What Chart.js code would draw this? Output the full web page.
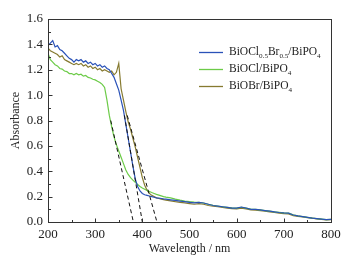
<!DOCTYPE html>
<html>
<head>
<meta charset="utf-8">
<script src="https://cdn.jsdelivr.net/npm/chart.js@4/dist/chart.umd.min.js"></script>
<style>
  html, body { margin: 0; padding: 0; background: #fff; }
  #wrap { width: 364px; height: 263px; }
</style>
</head>
<body>
<div id="wrap"><canvas id="chart" width="364" height="263"></canvas></div>
<script>
// wavelength (nm): 5 nm steps up to 450, then 10 nm steps
const wavelength = [
  200, 205, 210, 215, 220, 225, 230, 235, 240, 245, 250, 255, 260, 265, 270, 275, 280, 285, 290, 295,
  300, 305, 310, 315, 320, 325, 330, 335, 340, 345, 350, 355, 360, 365, 370, 375, 380, 385, 390, 395,
  400, 405, 410, 415, 420, 425, 430, 435, 440, 445, 450,
  460, 470, 480, 490, 500, 510, 520, 530, 540, 550, 560, 570, 580, 590, 600, 610, 620, 630, 640, 650,
  660, 670, 680, 690, 700, 710, 720, 730, 740, 750, 760, 770, 780, 790, 800
];
const absClBr = [
  1.39, 1.41, 1.43, 1.38, 1.39, 1.36, 1.35, 1.33, 1.31, 1.29, 1.28, 1.26, 1.28, 1.27, 1.28, 1.26, 1.27, 1.25, 1.26, 1.24,
  1.25, 1.23, 1.24, 1.22, 1.23, 1.21, 1.20, 1.17, 1.14, 1.09, 1.04, 0.96, 0.88, 0.77, 0.66, 0.55, 0.44, 0.34, 0.28, 0.245,
  0.225, 0.215, 0.21, 0.205, 0.20, 0.195, 0.19, 0.188, 0.185, 0.182, 0.18,
  0.175, 0.17, 0.165, 0.16, 0.155, 0.15, 0.155, 0.15, 0.14, 0.13, 0.125, 0.12, 0.115, 0.11, 0.11, 0.118, 0.11, 0.10, 0.10, 0.095,
  0.09, 0.085, 0.08, 0.075, 0.072, 0.07, 0.055, 0.048, 0.042, 0.036, 0.03, 0.026, 0.022, 0.018, 0.02
];
const absCl = [
  1.33, 1.28, 1.26, 1.24, 1.23, 1.21, 1.205, 1.19, 1.185, 1.17, 1.17, 1.16, 1.17, 1.16, 1.165, 1.15, 1.155, 1.14, 1.135, 1.125,
  1.12, 1.11, 1.10, 1.085, 1.06, 0.96, 0.84, 0.75, 0.67, 0.61, 0.56, 0.51, 0.46, 0.41, 0.375, 0.35, 0.33, 0.312, 0.296, 0.28,
  0.268, 0.258, 0.248, 0.24, 0.232, 0.225, 0.218, 0.212, 0.206, 0.20, 0.196,
  0.19, 0.18, 0.172, 0.165, 0.16, 0.156, 0.155, 0.15, 0.14, 0.132, 0.126, 0.12, 0.116, 0.112, 0.11, 0.116, 0.11, 0.102, 0.10, 0.095,
  0.09, 0.086, 0.08, 0.076, 0.072, 0.07, 0.056, 0.048, 0.042, 0.036, 0.03, 0.026, 0.022, 0.018, 0.02
];
const absBr = [
  1.37, 1.35, 1.34, 1.33, 1.32, 1.30, 1.31, 1.28, 1.27, 1.26, 1.25, 1.24, 1.25, 1.24, 1.25, 1.23, 1.24, 1.22, 1.23, 1.21,
  1.22, 1.20, 1.21, 1.19, 1.20, 1.19, 1.18, 1.19, 1.16, 1.18, 1.25, 1.05, 0.96, 0.87, 0.79, 0.73, 0.66, 0.59, 0.51, 0.43,
  0.35, 0.29, 0.25, 0.225, 0.21, 0.20, 0.19, 0.185, 0.18, 0.176, 0.172,
  0.166, 0.16, 0.155, 0.15, 0.145, 0.14, 0.145, 0.14, 0.13, 0.124, 0.12, 0.115, 0.11, 0.106, 0.104, 0.11, 0.104, 0.096, 0.094, 0.09,
  0.085, 0.08, 0.075, 0.07, 0.066, 0.064, 0.05, 0.045, 0.04, 0.035, 0.03, 0.025, 0.02, 0.016, 0.018
];
const seriesNames = ["BiOCl_{0.5}Br_{0.5}/BiPO_{4}", "BiOCl/BiPO_{4}", "BiOBr/BiPO_{4}"];
const seriesColors = ["#2a52b8", "#6ccb48", "#867a30"];
// absorption-edge tangents (start and x-axis intercept)
const edgeX = [[333, 381], [362, 400], [368, 431]];
const edgeY = [[0.80, 0], [0.84, 0], [0.84, 0]];
const xTicks = [200, 300, 400, 500, 600, 700, 800];
const yTicks = [0, 0.2, 0.4, 0.6, 0.8, 1.0, 1.2, 1.4, 1.6];

const serif = "'Liberation Serif', 'Times New Roman', serif";
const series = [absClBr, absCl, absBr];

const toPoints = (xs, ys) => xs.map((v, i) => ({ x: v, y: ys[i] }));

const datasets = [];
edgeX.forEach((xs, i) => {
  datasets.push({
    label: "edge" + i,
    data: toPoints(xs, edgeY[i]),
    borderColor: "#111",
    borderWidth: 1,
    borderDash: [4, 3],
    pointRadius: 0,
  });
});
series.forEach((ys, i) => {
  datasets.push({
    label: seriesNames[i],
    data: toPoints(wavelength, ys),
    borderColor: seriesColors[i],
    borderWidth: 1.2,
    pointRadius: 0,
    tension: 0,
  });
});

// draws text with _{...} parts as subscripts
const drawRich = function (ctx, str, x, y, size) {
  const parts = str.split(/(_\{[^}]*\})/).filter((p) => p);
  parts.forEach((p) => {
    const sub = p.startsWith("_{");
    const t = sub ? p.slice(2, -1) : p;
    ctx.font = (sub ? size * 0.62 : size) + "px " + serif;
    ctx.fillText(t, x, sub ? y + size * 0.32 : y);
    x += ctx.measureText(t).width;
  });
};

const framePlugin = {
  id: "frame",
  afterDatasetsDraw(chart) {
    const { ctx, chartArea: a, scales } = chart;
    const l = Math.round(a.left) + 0.5, r = Math.round(a.right) + 0.5;
    const t = Math.round(a.top) + 0.5, b = Math.round(a.bottom) + 0.5;
    ctx.save();
    ctx.strokeStyle = "#333";
    ctx.lineWidth = 1;
    ctx.strokeRect(l, t, r - l, b - t);
    ctx.beginPath();
    for (let v = 250; v < 800; v += 50) {
      const px = Math.round(scales.x.getPixelForValue(v)) + 0.5;
      const len = v % 100 === 0 ? 4 : 2.5;
      ctx.moveTo(px, b);
      ctx.lineTo(px, b - len);
    }
    for (let k = 1; k < 16; k++) {
      const py = Math.round(scales.y.getPixelForValue(k / 10)) + 0.5;
      const len = k % 2 === 0 ? 4 : 2.5;
      ctx.moveTo(l, py);
      ctx.lineTo(l + len, py);
    }
    ctx.stroke();
    ctx.restore();
  },
};

const legendPlugin = {
  id: "richLegend",
  afterDraw(chart) {
    const ctx = chart.ctx;
    ctx.save();
    seriesNames.forEach((name, i) => {
      const y = 52 + i * 17;
      ctx.strokeStyle = seriesColors[i];
      ctx.lineWidth = 1.3;
      ctx.beginPath();
      ctx.moveTo(199, y + 0.5);
      ctx.lineTo(223, y + 0.5);
      ctx.stroke();
      ctx.fillStyle = "#222";
      ctx.textBaseline = "middle";
      ctx.textAlign = "left";
      drawRich(ctx, name, 229, y, 11.5);
    });
    ctx.restore();
  },
};

new Chart(document.getElementById("chart"), {
  type: "line",
  data: { datasets: datasets },
  options: {
    responsive: false,
    animation: false,
    layout: { padding: { left: 0, right: 33, top: 19, bottom: 0 } },
    plugins: { legend: { display: false }, tooltip: { enabled: false } },
    scales: {
      x: {
        type: "linear",
        min: 200,
        max: 800,
        afterBuildTicks: (s) => { s.ticks = xTicks.map((v) => ({ value: v })); },
        afterFit: (s) => { s.height = 41; },
        grid: { display: false, drawTicks: false },
        border: { display: false },
        ticks: { color: "#222", padding: 5, autoSkip: false, font: { family: serif, size: 13 }, maxRotation: 0 },
        title: {
          display: true,
          text: "Wavelength / nm",
          color: "#222",
          font: { family: serif, size: 12 },
          padding: { top: 0, bottom: 7 },
        },
      },
      y: {
        min: 0,
        max: 1.6,
        afterBuildTicks: (s) => { s.ticks = yTicks.map((v) => ({ value: v })); },
        afterTickToLabelConversion: (s) => {
          s.ticks.forEach((t) => { t.label = t.value.toFixed(1); });
        },
        afterFit: (s) => { s.width = 48; },
        grid: { display: false, drawTicks: false },
        border: { display: false },
        ticks: { color: "#222", padding: 5, autoSkip: false, font: { family: serif, size: 13 } },
        title: {
          display: true,
          text: "Absorbance",
          color: "#222",
          font: { family: serif, size: 12 },
          padding: { top: 9, bottom: 0 },
        },
      },
    },
  },
  plugins: [framePlugin, legendPlugin],
});
</script>
</body>
</html>
